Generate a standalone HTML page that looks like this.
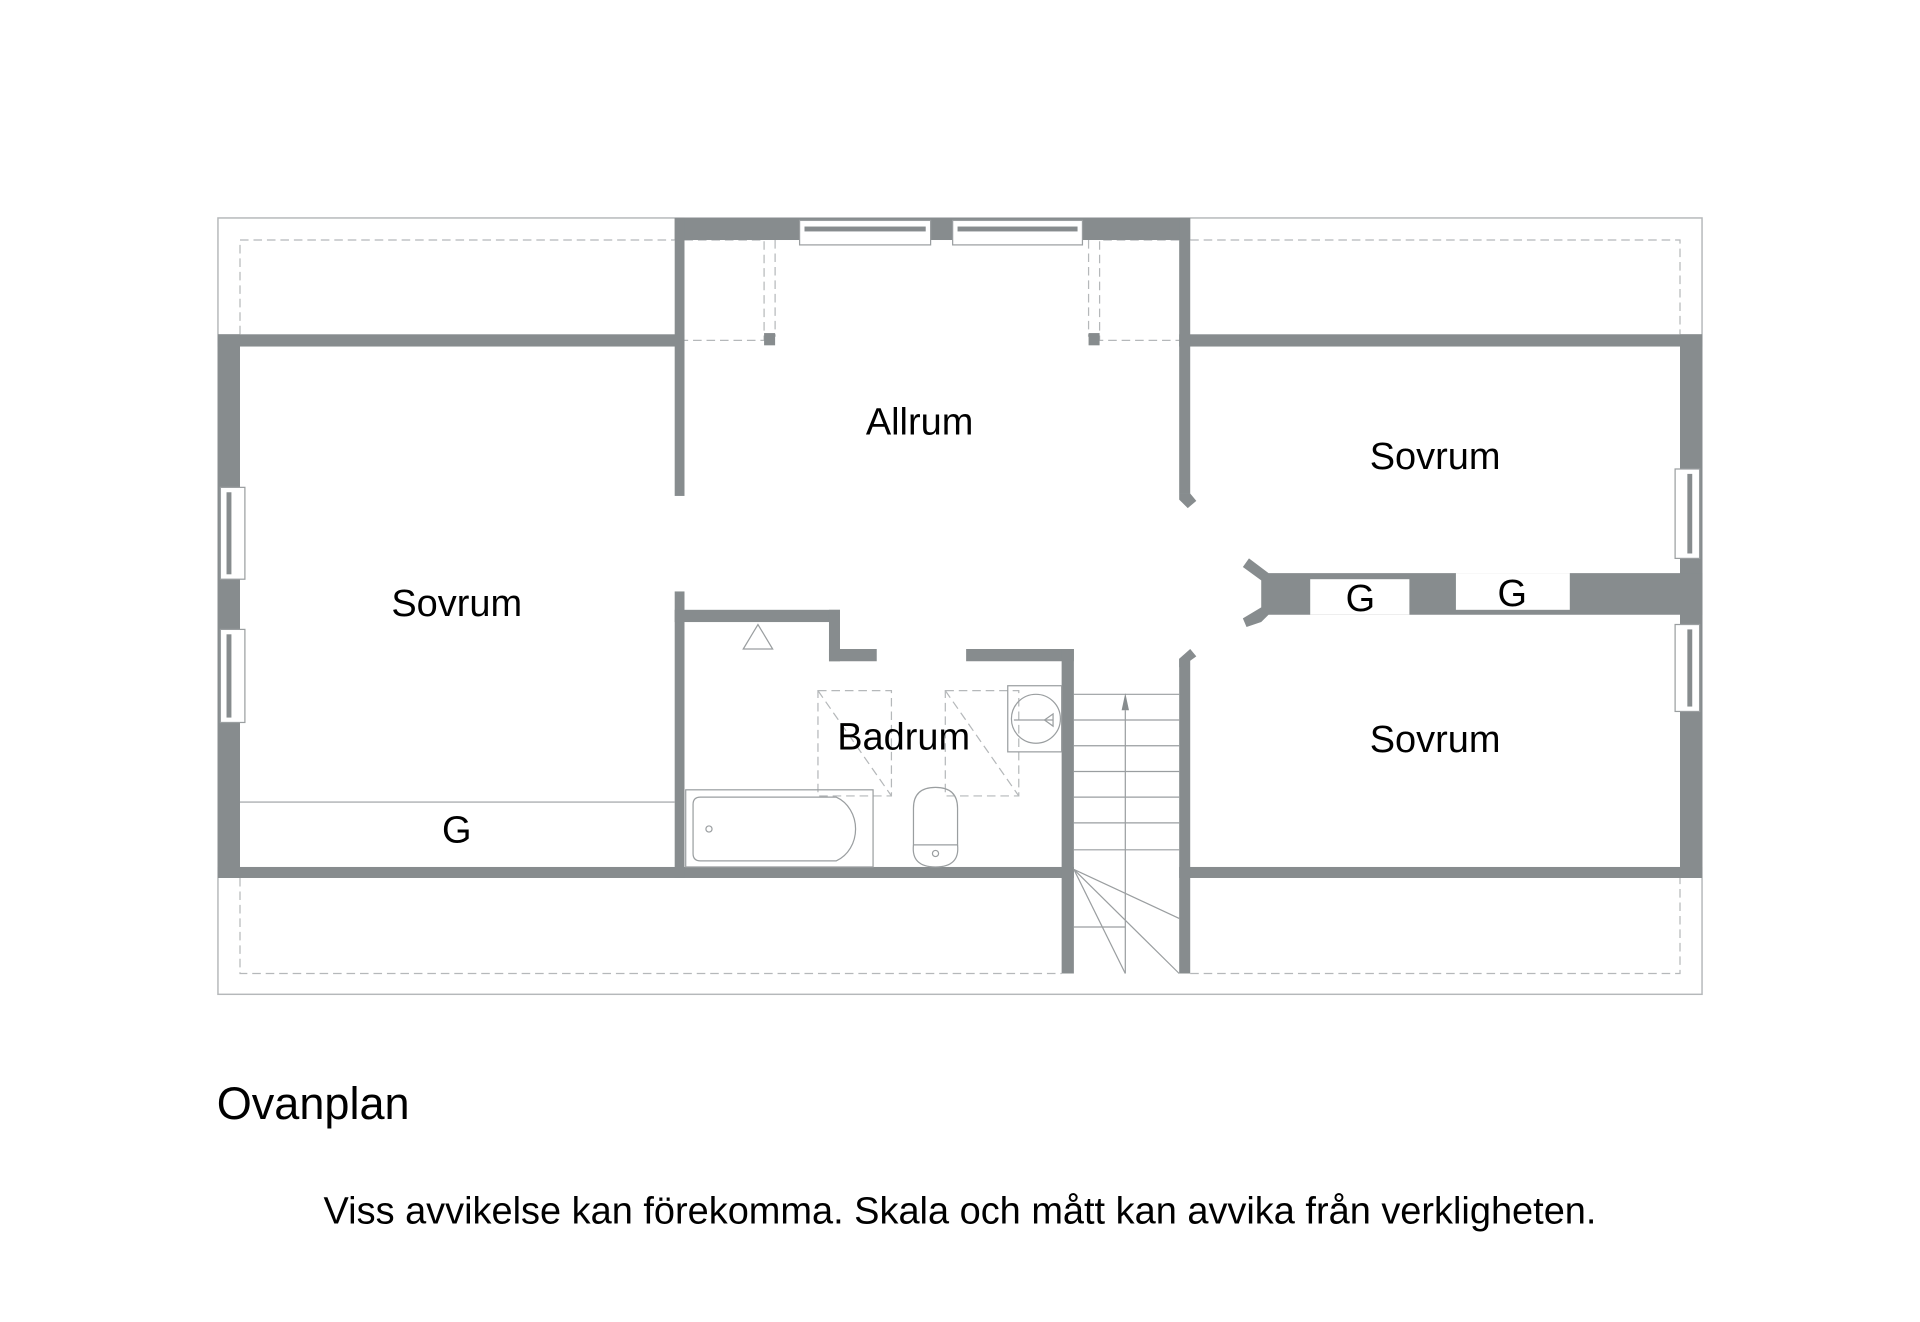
<!DOCTYPE html>
<html><head><meta charset="utf-8"><style>html,body{margin:0;padding:0;background:#fff}svg{display:block}</style></head>
<body>
<svg width="1920" height="1322" viewBox="0 0 1568 1079.6" preserveAspectRatio="none" xmlns="http://www.w3.org/2000/svg" font-family="Liberation Sans, Arial, sans-serif">
<rect x="0" y="0" width="1568" height="1080" fill="#fff"/>
<rect x="178" y="178" width="1212" height="634" fill="none" stroke="#b5b8ba" stroke-width="1.2"/>
<g fill="none" stroke="#b5b8ba" stroke-width="1" stroke-dasharray="7,4">
<polyline points="196,273 196,196 551,196"/>
<polyline points="972,196 1372,196 1372,273"/>
<polyline points="196,717 196,795 867,795"/>
<polyline points="972,795 1372,795 1372,717"/>
<polyline points="559,196 624,196 624,278 559,278"/>
<line x1="633" y1="196" x2="633" y2="275"/>
<polyline points="963,196 898,196 898,278 963,278"/>
<line x1="889" y1="196" x2="889" y2="275"/>
<rect x="668" y="564" width="60" height="86"/>
<line x1="668" y1="564" x2="728" y2="650"/>
<rect x="772" y="564" width="60" height="86"/>
<line x1="772" y1="564" x2="832" y2="650"/>
</g>
<g fill="#878c8e">
<rect x="551" y="178" width="421" height="18"/>
<rect x="178" y="273" width="381" height="10"/>
<rect x="963" y="273" width="427" height="10"/>
<rect x="178" y="273" width="18" height="444"/>
<rect x="1372" y="273" width="18" height="444"/>
<rect x="178" y="708" width="699" height="9"/>
<rect x="963" y="708" width="427" height="9"/>
<rect x="551" y="178" width="8" height="227"/>
<rect x="551" y="483" width="8" height="234"/>
<rect x="963" y="178" width="9" height="225"/>
<polygon points="963,403 972,403 977,409 970,415 963,408"/>
<rect x="624" y="272" width="9" height="10"/>
<rect x="889" y="272" width="9" height="10"/>
<rect x="963" y="538" width="9" height="257"/>
<polygon points="963,538 972,530 977,536 970,541 963,545"/>
<rect x="551" y="498" width="135" height="10"/>
<rect x="677" y="498" width="9" height="42"/>
<rect x="677" y="530" width="39" height="10"/>
<rect x="789" y="530" width="88" height="10"/>
<rect x="867" y="530" width="10" height="265"/>
<polygon points="1036,468 1390,468 1390,502 1036,502 1030,508 1018,512 1015,505 1030,496 1030,474 1015,463 1020,456"/>
</g>
<rect x="1070" y="473" width="81" height="29" fill="#fff"/>
<rect x="1189" y="468" width="93" height="30" fill="#fff"/>
<g fill="#fff" stroke="#9a9ea0" stroke-width="1">
<rect x="653" y="180" width="107" height="20"/>
<rect x="778" y="180" width="106" height="20"/>
<rect x="180" y="398" width="20" height="75"/>
<rect x="180" y="514" width="20" height="76"/>
<rect x="1368" y="383" width="20" height="73"/>
<rect x="1368" y="510" width="20" height="71"/>
</g>
<g fill="#878c8e">
<rect x="657" y="185" width="99" height="4"/>
<rect x="782" y="185" width="98" height="4"/>
<rect x="185" y="402" width="4" height="67"/>
<rect x="185" y="518" width="4" height="68"/>
<rect x="1378" y="387" width="4" height="65"/>
<rect x="1378" y="514" width="4" height="63"/>
</g>
<g fill="none" stroke="#9a9ea0" stroke-width="1">
<line x1="196" y1="655" x2="551" y2="655"/>
<polygon points="607,530 619,510 631,530"/>
<rect x="560" y="645" width="153" height="63"/>
<path d="M572,651 H683 A25,28 0 0 1 683,703 H572 Q566,703 566,697 V657 Q566,651 572,651 Z"/>
<circle cx="579" cy="677" r="2.5"/>
<path d="M746,690 V660 Q746,643 764,643 Q782,643 782,660 V690 Z"/>
<path d="M746,690 Q744,708 764,708 Q784,708 782,690"/>
<circle cx="764" cy="697" r="2.5"/>
<rect x="823" y="560" width="44" height="54"/>
<circle cx="846" cy="587" r="20"/>
<line x1="828" y1="588" x2="860" y2="588"/>
<polygon points="853,588 860,583 860,593"/>
<line x1="877" y1="567" x2="963" y2="567"/>
<line x1="877" y1="588" x2="963" y2="588"/>
<line x1="877" y1="609" x2="963" y2="609"/>
<line x1="877" y1="630" x2="963" y2="630"/>
<line x1="877" y1="651" x2="963" y2="651"/>
<line x1="877" y1="672" x2="963" y2="672"/>
<line x1="877" y1="694" x2="963" y2="694"/>
<line x1="919" y1="580" x2="919" y2="795"/>
<line x1="877" y1="757" x2="919" y2="757"/>
<line x1="877" y1="710" x2="963" y2="750"/>
<line x1="877" y1="710" x2="963" y2="795"/>
<line x1="877" y1="710" x2="919" y2="795"/>
</g>
<polygon points="919,566 916,580 922,580" fill="#878c8e"/>
<g fill="#000" font-size="31" text-anchor="middle">
<text x="751" y="355">Allrum</text>
<text x="373" y="503">Sovrum</text>
<text x="1172" y="383">Sovrum</text>
<text x="1172" y="614">Sovrum</text>
<text x="738" y="612">Badrum</text>
<text x="373" y="688">G</text>
<text x="1111" y="499">G</text>
<text x="1235" y="495">G</text>
</g>
<text x="177" y="914" font-size="36.8" fill="#000">Ovanplan</text>
<text x="784" y="999" font-size="31" fill="#000" text-anchor="middle">Viss avvikelse kan förekomma. Skala och mått kan avvika från verkligheten.</text>
</svg>
</body></html>
